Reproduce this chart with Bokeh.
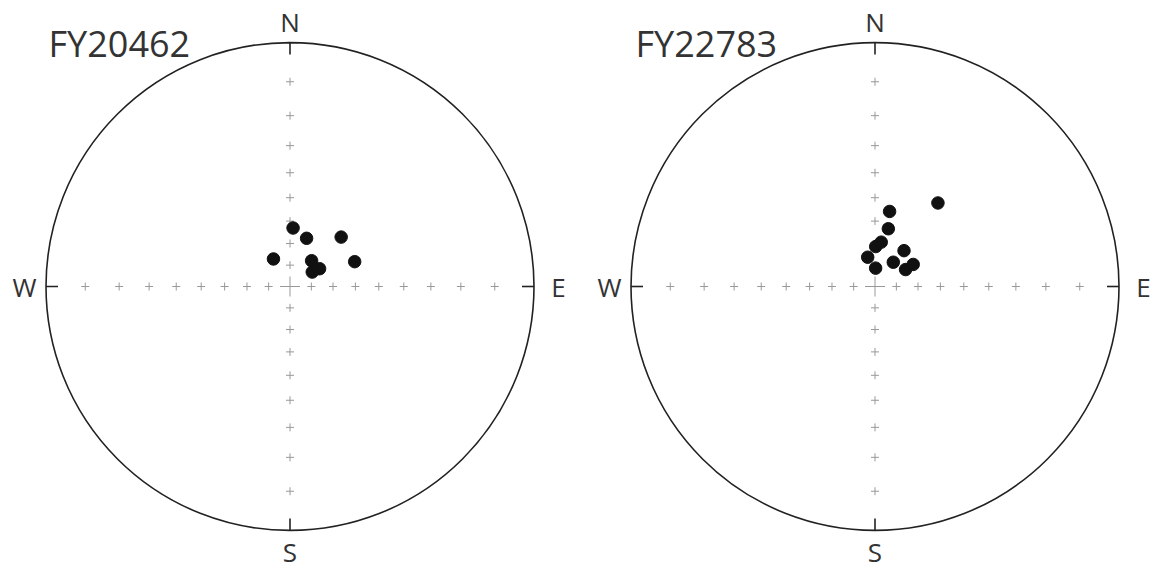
import numpy as np
from bokeh.plotting import figure
from bokeh.models import Range1d
from bokeh.core.properties import value
from bokeh.embed import file_html
from bokeh.resources import INLINE

# ---- data (declination, inclination in degrees) ----
site_names = ["FY20462", "FY22783"]
dec_fy20462 = [3, 19, 46, 329, 69, 40, 57, 59]
inc_fy20462 = [63, 66.4, 57.5, 75, 58.3, 74.3, 77.6, 73.9]
dec_fy22783 = [37, 11, 13, 1, 8, 346, 2, 37, 39, 61, 60]
inc_fy22783 = [43.6, 55.2, 62.7, 71.4, 69.2, 75.9, 81.4, 75.8, 68.6, 73.7, 69.5]
tick_incs = [80, 70, 60, 50, 40, 30, 20, 10]
direction_labels = ["N", "E", "S", "W"]

# ---- layout ----
PX = 244.0                     # pixels per unit radius
W, H = 1152, 571
centers = [0.0, (874.5 - 289.5) / PX]
x0 = (0 - 289.5) / PX
y1 = (286 - 0) / PX

p = figure(width=W, height=H, output_backend="svg", toolbar_location=None,
           x_range=Range1d(x0, x0 + W / PX), y_range=Range1d(y1 - H / PX, y1),
           x_axis_location=None, y_axis_location=None, min_border=0,
           background_fill_color="white", border_fill_color="white")
p.grid.visible = False
p.outline_line_color = None

def wulff(dec, inc):
    dec = np.radians(np.asarray(dec, float))
    inc = np.asarray(inc, float)
    r = np.tan(np.radians((90 - inc) / 2))
    return r * np.sin(dec), r * np.cos(dec)

font = value("Open Sans")
tc = "#333333"
decs = [dec_fy20462, dec_fy22783]
incs = [inc_fy20462, inc_fy22783]
for k, cx in enumerate(centers):
    # primitive circle
    p.circle(x=[cx], y=[0], radius=1, fill_color=None, line_color="#222222", line_width=1.6)
    # inward edge ticks
    t = 12 / PX
    p.segment(x0=[cx, cx, cx + 1, cx - 1], y0=[1, -1, 0, 0],
              x1=[cx, cx, cx + 1 - t, cx - 1 + t], y1=[1 - t, -1 + t, 0, 0],
              line_color="#222222", line_width=1.6)
    # grid crosses
    rr = np.tan(np.radians((90 - np.array(tick_incs)) / 2))
    xs = np.concatenate([cx + rr, cx - rr, np.full_like(rr, cx), np.full_like(rr, cx)])
    ys = np.concatenate([np.zeros_like(rr), np.zeros_like(rr), rr, -rr])
    p.scatter(x=xs, y=ys, marker="cross", size=8, line_color="#999999", line_width=1)
    p.scatter(x=[cx], y=[0], marker="cross", size=20, line_color="#999999", line_width=1)
    # direction labels
    lx = [cx, cx + 1.100, cx, cx - 1.088]
    ly = [1.082, 0, -1.090, 0]
    p.text(x=lx, y=ly, text=direction_labels, text_align="center", text_baseline="middle",
           text_font=font, text_font_size="26px", text_color=tc)
    # data
    dx, dy = wulff(decs[k], incs[k])
    p.scatter(x=cx + dx, y=dy, size=12.5, fill_color="#111111", line_color="#111111")

# titles
p.text(x=[(48 - 289.5) / PX, (635 - 289.5) / PX], y=[(286 - 43) / PX] * 2, text=site_names,
       text_align="left", text_baseline="alphabetic", text_font=font,
       text_font_size="36px", text_color=tc)

open("out.html", "w").write(file_html(p, INLINE))
